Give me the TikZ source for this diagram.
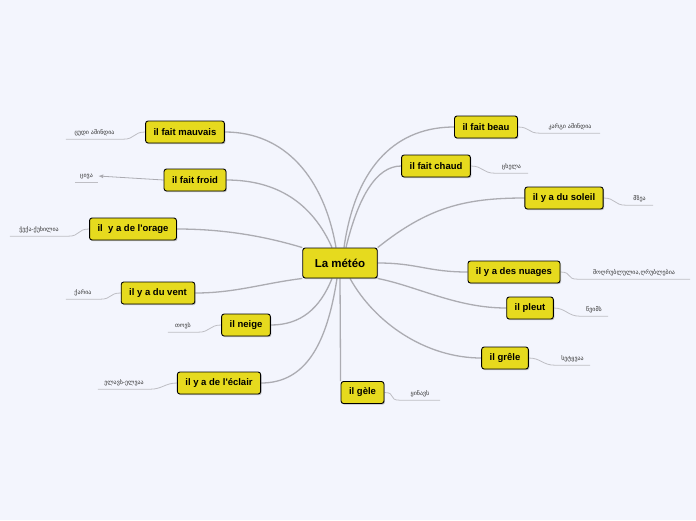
\documentclass[tikz,border=0pt]{standalone}
\usepackage{fontspec}
\setmainfont{Liberation Sans}
\newfontfamily\geo{DejaVu Sans}
\usetikzlibrary{shadows,arrows.meta}
\pgfdeclarelayer{bg}
\pgfdeclarelayer{links}
\pgfsetlayers{bg,links,main}
\definecolor{bgcol}{RGB}{243,245,253}
\definecolor{topic}{RGB}{230,218,30}
\definecolor{branch}{RGB}{172,172,178}
\definecolor{twig}{RGB}{190,190,196}
\tikzset{
  topicbox/.style={draw=black, line width=0.9pt, fill=topic, rounded corners=2.5pt,
    minimum height=22, inner xsep=8pt, font=\fontsize{9.5}{11}\selectfont\bfseries,
    drop shadow={shadow xshift=1pt, shadow yshift=-1.2pt, opacity=0.45}},
  centrebox/.style={topicbox, minimum height=30, inner xsep=12pt,
    font=\fontsize{11.5}{13}\selectfont\bfseries},
  leaf/.style={inner sep=0pt, minimum height=12, text=black!80,
    font=\geo\fontsize{6}{7}\selectfont},
  branchline/.style={draw=branch, line width=1.3pt},
  twigline/.style={draw=twig, line width=0.8pt},
}

\begin{document}
\begin{tikzpicture}[x=1pt,y=-1pt]
\begin{pgfonlayer}{bg}
\fill[bgcol] (0,0) rectangle (696,520);
\end{pgfonlayer}

% centre
\node[centrebox] (meteo) at (340,263) {La météo};

% topics
\node[topicbox] (mauvais) at (185,132) {il fait mauvais};
\node[topicbox] (froid) at (195,180) {il fait froid};
\node[topicbox] (orage) at (133,229) {il~~y a de l\textquotesingle orage};
\node[topicbox] (vent) at (158,293) {il y a du vent};
\node[topicbox] (neige) at (246,325) {il neige};
\node[topicbox] (eclair) at (219,383) {il y a de l\textquotesingle éclair};
\node[topicbox] (beau) at (486,127) {il fait beau};
\node[topicbox] (chaud) at (436,166) {il fait chaud};
\node[topicbox] (soleil) at (564,198) {il y a du soleil};
\node[topicbox] (nuages) at (514,272) {il y a des nuages};
\node[topicbox] (pleut) at (530,308) {il pleut};
\node[topicbox] (grele) at (505,358) {il grêle};
\node[topicbox] (gele) at (362.5,392.5) {il gèle};

% leaves
\foreach \n/\x/\y/\w/\t in {
  mauvaisL/94.5/133/57/{ცუდი ამინდია},
  froidL/86.5/176/23/{ცივა},
  orageL/39/230/58/{ჭექა-ქუხილია},
  ventL/83/293/34/{ქარია},
  neigeL/183/326/30/{თოვს},
  eclairL/124/383/52/{ელავს-ელვაა},
  beauL/570/127/60/{კარგი ამინდია},
  chaudL/511.5/167/33/{ცხელა},
  soleilL/639.5/199/27/{მზეა},
  nuagesL/634/273/112/{მოღრუბლულია,ღრუბლებია},
  pleutL/594/310/28/{წვიმს},
  greleL/572.5/359/35/{სეტყვაა},
  geleL/420/394/40/{ყინავს}}
  {\node[leaf, minimum width=\w] (\n) at (\x,\y) {\t};}

\begin{pgfonlayer}{links}
% branches
\draw[branchline] (meteo.north) ++(-4,0) .. controls +(-12,-70) and +(60,0) .. (mauvais.east);
\draw[branchline] (meteo.north) ++(-8,0) .. controls +(-20,-45) and +(50,0) .. (froid.east);
\draw[branchline] (meteo.north west) .. controls +(-40,-12) and +(45,0) .. (orage.east);
\draw[branchline] (meteo.south west) .. controls +(-40,5) and +(40,0) .. (vent.east);
\draw[branchline] (meteo.south) ++(-8,0) .. controls +(-12,30) and +(30,0) .. (neige.east);
\draw[branchline] (meteo.south) ++(-3,0) .. controls +(-10,65) and +(45,0) .. (eclair.east);
\draw[branchline] (meteo.north) ++(4,0) .. controls +(12,-85) and +(-55,0) .. (beau.west);
\draw[branchline] (meteo.north) ++(6,0) .. controls +(12,-50) and +(-25,0) .. (chaud.west);
\draw[branchline] (meteo.north east) .. controls +(50,-40) and +(-60,0) .. (soleil.west);
\draw[branchline] (meteo.east) .. controls +(40,0) and +(-40,0) .. (nuages.west);
\draw[branchline] (meteo.south east) .. controls +(40,8) and +(-50,0) .. (pleut.west);
\draw[branchline] (meteo.south) ++(10,0) .. controls +(25,45) and +(-55,0) .. (grele.west);
\draw[branchline] (meteo.south) -- (gele.north west);

% twigs
\draw[twigline] (mauvais.west) .. controls +(-12,0) and +(12,0) .. (mauvaisL.south east) -- (mauvaisL.south west);
\draw[twigline, draw=branch, -{Latex[length=5pt,width=4pt]}] (froid.west) -- (froidL.east);
\draw[twigline] (froidL.south west) -- (froidL.south east);
\draw[twigline] (orage.west) .. controls +(-12,0) and +(12,0) .. (orageL.south east) -- (orageL.south west);
\draw[twigline] (vent.west) .. controls +(-12,0) and +(12,0) .. (ventL.south east) -- (ventL.south west);
\draw[twigline] (neige.west) .. controls +(-12,0) and +(12,0) .. (neigeL.south east) -- (neigeL.south west);
\draw[twigline] (eclair.west) .. controls +(-12,0) and +(12,0) .. (eclairL.south east) -- (eclairL.south west);
\draw[twigline] (beau.east) .. controls +(12,0) and +(-12,0) .. (beauL.south west) -- (beauL.south east);
\draw[twigline] (chaud.east) .. controls +(12,0) and +(-12,0) .. (chaudL.south west) -- (chaudL.south east);
\draw[twigline] (soleil.east) .. controls +(12,0) and +(-12,0) .. (soleilL.south west) -- (soleilL.south east);
\draw[twigline] (nuages.east) .. controls +(12,0) and +(-12,0) .. (nuagesL.south west) -- (nuagesL.south east);
\draw[twigline] (pleut.east) .. controls +(12,0) and +(-12,0) .. (pleutL.south west) -- (pleutL.south east);
\draw[twigline] (grele.east) .. controls +(12,0) and +(-12,0) .. (greleL.south west) -- (greleL.south east);
\draw[twigline] (gele.east) .. controls +(12,0) and +(-12,0) .. (geleL.south west) -- (geleL.south east);
\end{pgfonlayer}
\end{tikzpicture}
\end{document}
